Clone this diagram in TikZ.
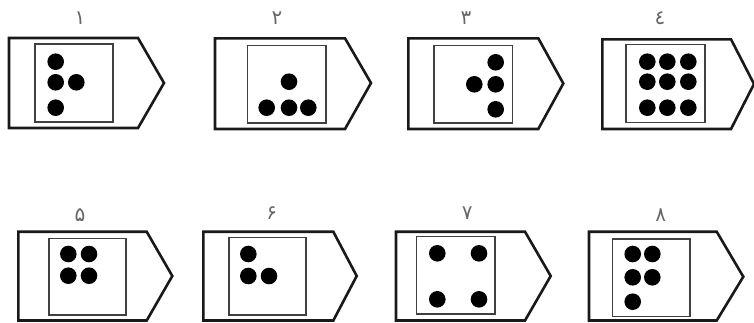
\documentclass[tikz,border=0pt]{standalone}
\usepackage{fontspec}
\newfontfamily\arabicfont[Script=Arabic]{DejaVu Sans}
\TeXXeTstate=1
\begin{document}
\begin{tikzpicture}[x=1pt,y=-1pt,
  outer/.style={draw=black!90,line width=2.6pt,line join=miter},
  inner/.style={draw=black!75,line width=1.5pt},
  dot/.style={fill=black},
  lbl/.style={text=black!60,font=\arabicfont\fontsize{20}{20}\selectfont,inner sep=0pt}]
\useasboundingbox (0,0) rectangle (754,322);
% 1
\draw[outer] (9,38) -- (138,38) -- (164,83) -- (138,128) -- (9,128) -- cycle;
\draw[inner] (35,44) rectangle (113,122);
\foreach \p in {(55.7,61.7),(55.7,82.3),(76.3,82.3),(55.7,107.7)} \fill[dot] \p circle (8.3);
\node[lbl] (l1) at (80,18) {\beginR ۱\endR};
% 2
\draw[outer] (215,38.3) -- (345,38.3) -- (371,83) -- (345,129) -- (215,129) -- cycle;
\draw[inner] (247.3,45.7) rectangle (326,123);
\foreach \p in {(289,81.7),(266.7,107.7),(289,107.7),(308.3,107.7)} \fill[dot] \p circle (8.3);
\node[lbl] (l2) at (277,18) {\beginR ۲\endR};
% 3
\draw[outer] (408.3,38.3) -- (538.3,38.3) -- (563.3,83.5) -- (538.3,129) -- (408.3,129) -- cycle;
\draw[inner] (434,45.7) rectangle (512.7,123);
\foreach \p in {(495.7,62.3),(474.3,84.3),(495.7,84.3),(495.7,109.3)} \fill[dot] \p circle (8.3);
\node[lbl] (l3) at (466,18) {\beginR ۳\endR};
% 4
\draw[outer] (602.3,39.3) -- (731,39.3) -- (754,84) -- (731,129) -- (602.3,129) -- cycle;
\draw[inner] (626,44.3) rectangle (705,122.7);
\foreach \x in {647.3,667.3,688.3} \foreach \y in {61.7,81.7,107.7} \fill[dot] (\x,\y) circle (8.3);
\node[lbl] (l4) at (660,18) {\beginR ٤\endR};
% 5
\draw[outer] (18.3,231.7) -- (146.7,231.7) -- (172.3,276) -- (146.7,320.5) -- (18.3,320.5) -- cycle;
\draw[inner] (49,238.3) rectangle (126,315);
\foreach \x in {68.3,89} \foreach \y in {254,275.7} \fill[dot] (\x,\y) circle (8.3);
\node[lbl] (l5) at (80,215) {\beginR ۵\endR};
% 6
\draw[outer] (203.3,231.7) -- (333.3,231.7) -- (356.7,276) -- (333.3,320.5) -- (203.3,320.5) -- cycle;
\draw[inner] (229,237.7) rectangle (306,315);
\foreach \p in {(248.3,254),(248.3,276),(269,276)} \fill[dot] \p circle (8.3);
\node[lbl] (l6) at (271.7,213.3) {\beginR ۶\endR};
% 7
\draw[outer] (396,231.7) -- (525,231.7) -- (550.7,276) -- (525,320.5) -- (396,320.5) -- cycle;
\draw[inner] (416.7,236.7) rectangle (495,314);
\foreach \x in {437.3,479} \foreach \y in {253.3,299.3} \fill[dot] (\x,\y) circle (8.3);
\node[lbl] (l7) at (467.3,212.7) {\beginR ۷\endR};
% 8
\draw[outer] (589,231.7) -- (716.7,231.7) -- (743.3,276.7) -- (716.7,320.5) -- (589,320.5) -- cycle;
\draw[inner] (612.7,239) rectangle (690,316.7);
\foreach \p in {(632.7,254),(652.3,254),(632.7,277.3),(652.3,277.3),(632.7,301.7)} \fill[dot] \p circle (8.3);
\node[lbl] (l8) at (660.7,215) {\beginR ۸\endR};
\end{tikzpicture}
\end{document}
